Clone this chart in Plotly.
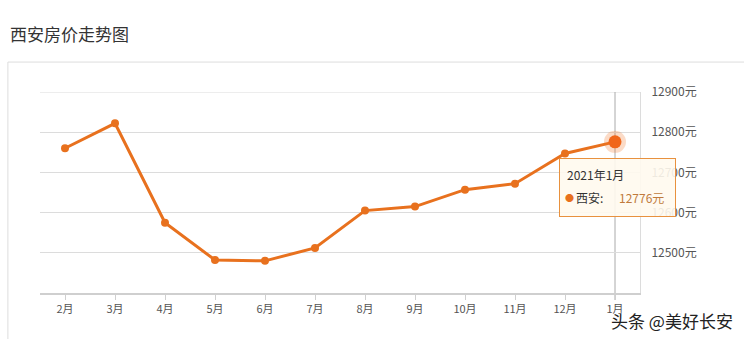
import plotly.graph_objects as go

months = ["2月", "3月", "4月", "5月", "6月", "7月", "8月", "9月", "10月", "11月", "12月", "1月"]
prices = [12760, 12822, 12575, 12482, 12480, 12512, 12605, 12615, 12657, 12672, 12747, 12776]
y_ticks = [12500, 12600, 12700, 12800, 12900]
y_range = [12400, 12900]
title_text = "西安房价走势图"
series_name = "西安"
hover_label = "2021年1月"
watermark = "头条 @美好长安"

LINE = "#e8711e"
FONT = "Noto Sans CJK SC, Noto Sans, sans-serif"

fig = go.Figure()
fig.add_trace(go.Scatter(
    x=months, y=prices, mode="lines+markers",
    line=dict(color=LINE, width=3),
    marker=dict(color=LINE, size=8),
    hoverinfo="skip", showlegend=False,
))
# highlighted last point (hover state)
fig.add_trace(go.Scatter(
    x=[months[-1]], y=[prices[-1]], mode="markers",
    marker=dict(color="rgba(240,110,30,0.25)", size=22),
    hoverinfo="skip", showlegend=False,
))
fig.add_trace(go.Scatter(
    x=[months[-1]], y=[prices[-1]], mode="markers",
    marker=dict(color="#f0661a", size=13),
    hoverinfo="skip", showlegend=False,
))

last_idx = len(months) - 1
px, py = months[-1], prices[-1]

def tip(text, xs, ys, xanchor="left", size=12, color="#333"):
    return dict(text=text, x=last_idx, y=py, xref="x", yref="y",
                xanchor=xanchor, yanchor="middle", xshift=xs, yshift=ys,
                showarrow=False, font=dict(family=FONT, size=size, color=color))

fig.update_layout(
    width=744, height=339,
    margin=dict(l=40, r=104, t=92, b=46),
    paper_bgcolor="white", plot_bgcolor="white",
    font=dict(family=FONT, size=11, color="#555"),
    xaxis=dict(
        type="category", range=[-0.5, len(months) - 0.5],
        showgrid=False, showline=True, linecolor="#cfcfcf", linewidth=2,
        ticks="outside", ticklen=5, tickcolor="#cfcfcf",
        tickfont=dict(size=11, color="#555"), fixedrange=True,
    ),
    yaxis=dict(
        range=y_range, side="right", tickvals=y_ticks,
        ticktext=[f"{v}元" for v in y_ticks],
        showgrid=True, gridcolor="#dcdcdc", gridwidth=1,
        showline=True, linecolor="#dcdcdc", linewidth=1, mirror=False,
        zeroline=False, ticks="", ticklabelstandoff=8,
        tickfont=dict(size=12, color="#555"),
    ),
    shapes=[
        # outer panel frame
        dict(type="rect", xref="paper", yref="paper",
             x0=-0.0535, x1=1.3, y0=-0.3, y1=1.149,
             line=dict(color="#dddddd", width=1), fillcolor="rgba(0,0,0,0)",
             layer="below"),
        # top grid line
        dict(type="line", xref="paper", yref="y",
             x0=0, x1=1, y0=max(y_ticks), y1=max(y_ticks),
             line=dict(color="#dcdcdc", width=1), layer="below"),
        # axis pointer
        dict(type="line", xref="x", yref="paper",
             x0=last_idx, x1=last_idx, y0=-0.035, y1=1,
             line=dict(color="#aaaaaa", width=1), layer="below"),
    ],
    annotations=[
        dict(text=title_text, xref="paper", yref="paper",
             x=-0.0535, y=(339 - 34 - 46) / 201, xanchor="left", yanchor="middle",
             showarrow=False, font=dict(family=FONT, size=17, color="#333")),
        # tooltip box
        dict(text=" ", x=last_idx, y=py, xref="x", yref="y",
             xanchor="center", yanchor="top", xshift=2.5, yshift=-16,
             showarrow=False, width=115, height=57, borderpad=0,
             bgcolor="rgba(255,249,238,0.9)", bordercolor="#e8913e", borderwidth=1,
             font=dict(family=FONT, size=12)),
        tip(hover_label, -50, -33, size=12, color="#333"),
        tip("●", -46, -56, xanchor="center", size=9, color=LINE),
        tip(f"{series_name}:", -41, -56, size=12, color="#333"),
        tip(f"{py}元", 2, -56, size=12, color="#c07a3c"),
        dict(text=watermark, xref="paper", yref="paper",
             x=(735 - 40) / 600, y=(293 - 320) / 201, xanchor="right", yanchor="middle",
             showarrow=False,
             font=dict(family=FONT, size=17, color="#222",
                       shadow="0 0 2px white, 0 0 3px white")),
    ],
)

fig.write_html("out.html")
